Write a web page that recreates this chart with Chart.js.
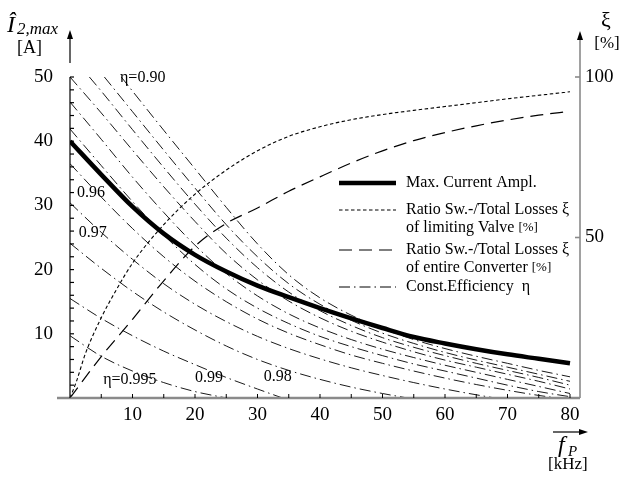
<!DOCTYPE html>
<html>
<head>
<meta charset="utf-8">
<title>Max. current amplitude and switching-loss ratio vs. pulse frequency</title>
<script src="https://cdn.jsdelivr.net/npm/chart.js@4.4.0/dist/chart.umd.min.js"></script>
<style>
  html, body { margin: 0; padding: 0; background: #fff; }
  canvas { display: block; }
</style>
</head>
<body>
<canvas id="chart" width="621" height="483"></canvas>
<script>
// ---------- axis ticks ----------
const freqTicks = [0, 5, 10, 15, 20, 25, 30, 35, 40, 45, 50, 55, 60, 65, 70, 75, 80];
const freqLabels = [10, 20, 30, 40, 50, 60, 70, 80];
const currentTicks = [0, 2, 4, 6, 8, 10, 12, 14, 16, 18, 20, 22, 24, 26, 28, 30, 32, 34, 36, 38, 40, 42, 44, 46, 48, 50];
const currentLabels = [10, 20, 30, 40, 50];
const ratioTicks = [50, 100];

// ---------- series: [f in kHz, value] ----------
// max. current amplitude I2,max [A]
const maxCurrent = [[0,40],[5,34.8],[10,29.8],[15,25.6],[20,22.3],[25,19.7],[30,17.5],[35,15.7],[40,14.0],[45,12.4],[50,10.9],[55,9.5],[60,8.5],[65,7.6],[70,6.8],[75,6.1],[80,5.4]];
// ratio switching / total losses of the limiting valve [%]
const ratioValve = [[0,0],[1,5],[2.5,14],[5,25],[7.5,34],[10,42],[15,54],[20,63.5],[25,71],[30,77],[35,81.5],[40,84.5],[45,86.7],[50,88.3],[55,89.6],[60,90.8],[65,92],[70,93.2],[75,94.3],[80,95.4]];
// ratio switching / total losses of the entire converter [%]
const ratioConverter = [[0,0],[5,12.9],[10,24.5],[15,36.5],[20,47.3],[25,54.4],[30,59.2],[35,64.4],[40,68.9],[45,73.2],[50,77.0],[55,80.2],[60,82.7],[65,84.8],[70,86.6],[75,88.1],[80,89.3]];

// lines of constant efficiency eta
const eta090  = [[8.2,50],[10,47.8],[15,41.7],[20,35.7],[25,29.7],[30,24.0],[35,19.2],[40,15.6],[45,12.9],[50,10.8],[55,9.1],[60,7.7],[65,6.5],[70,5.4],[75,4.3],[80,3.3]];
const eta091  = [[5.5,50],[10,44.6],[15,38.6],[20,32.7],[25,27.0],[30,22.0],[35,17.8],[40,14.6],[45,12.1],[50,10.1],[55,8.5],[60,7.1],[65,5.9],[70,4.8],[75,3.7],[80,2.6]];
const eta092  = [[3.1,50],[5,47.8],[10,41.8],[15,35.9],[20,30.2],[25,24.9],[30,20.3],[35,16.5],[40,13.6],[45,11.3],[50,9.4],[55,7.9],[60,6.6],[65,5.4],[70,4.3],[75,3.2],[80,2.0]];
const eta093  = [[0,50],[5,44.4],[10,38.6],[15,32.9],[20,27.5],[25,22.5],[30,18.4],[35,15.1],[40,12.5],[45,10.4],[50,8.7],[55,7.2],[60,5.9],[65,4.8],[70,3.7],[75,2.6],[80,1.4]];
const eta094  = [[0,46.1],[5,40.3],[10,34.4],[15,28.9],[20,23.8],[25,19.4],[30,15.9],[35,13.1],[40,10.9],[45,9.1],[50,7.6],[55,6.3],[60,5.1],[65,4.0],[70,2.9],[75,1.8],[80,0.7]];
const eta095  = [[0,41.9],[5,36.2],[10,30.6],[15,25.4],[20,20.8],[25,17.0],[30,14.0],[35,11.6],[40,9.6],[45,8.0],[50,6.6],[55,5.3],[60,4.2],[65,3.1],[70,2.0],[75,1.0],[80,0.2]];
const eta096  = [[0,36.5],[5,31.3],[10,26.4],[15,22.0],[20,18.2],[25,15.0],[30,12.3],[35,10.1],[40,8.3],[45,6.7],[50,5.4],[55,4.2],[60,3.1],[65,2.1],[70,1.2],[75,0.4],[78,0]];
const eta097  = [[0,30.4],[5,25.8],[10,21.6],[15,17.8],[20,14.6],[25,11.9],[30,9.6],[35,7.7],[40,6.1],[45,4.7],[50,3.5],[55,2.4],[60,1.4],[65,0.5],[68,0]];
const eta098  = [[0,24.1],[5,20.2],[10,16.6],[15,13.4],[20,10.6],[25,8.1],[30,6.0],[35,4.3],[40,2.9],[45,1.7],[50,0.7],[54,0]];
const eta099  = [[0,15.5],[5,12.4],[10,9.7],[15,7.3],[20,5.2],[25,3.2],[30,1.4],[34,0]];
const eta0995 = [[0,9.7],[5,6.5],[10,4.2],[15,2.4],[20,1.0],[25,0]];
const etaCurves = [eta090, eta091, eta092, eta093, eta094, eta095, eta096, eta097, eta098, eta099, eta0995];
const etaNames = ['0.90','0.91','0.92','0.93','0.94','0.95','0.96','0.97','0.98','0.99','0.995'];

// curve labels: text and anchor (f, I)
const etaLabelText = ['\u03b7=0.90', '0.96', '0.97', '\u03b7=0.995', '0.99', '0.98'];
const etaLabelAt = [[8.0,49.9],[1.1,32.0],[1.4,25.8],[5.3,2.8],[20.0,3.1],[31.0,3.3]];

// legend text
const legendMain = ['Max. Current Ampl.', 'Ratio Sw.-/Total Losses \u03be', 'Ratio Sw.-/Total Losses \u03be', 'Const.Efficiency  \u03b7'];
const legendSub = ['', 'of limiting Valve ', 'of entire Converter ', ''];
const legendUnit = ['', '[%]', '[%]', ''];

const SERIF = '"Liberation Serif", "Times New Roman", Times, serif';
const toXY = arr => arr.map(p => ({ x: p[0], y: p[1] }));

const DASH_DOT = [11, 4, 1.5, 4];
const DOTTED = [3.5, 2.5];
const DASHED = [13, 7];

const datasets = [];
etaCurves.forEach((c, i) => datasets.push({
  label: '\u03b7=' + etaNames[i], data: toXY(c), yAxisID: 'y',
  borderColor: '#000', borderWidth: 0.9, borderDash: DASH_DOT,
  pointRadius: 0, cubicInterpolationMode: 'monotone', fill: false
}));
datasets.push({
  label: 'Ratio Sw.-/Total Losses of limiting Valve', data: toXY(ratioValve), yAxisID: 'y2',
  borderColor: '#000', borderWidth: 1.1, borderDash: DOTTED,
  pointRadius: 0, cubicInterpolationMode: 'monotone', fill: false
});
datasets.push({
  label: 'Ratio Sw.-/Total Losses of entire Converter', data: toXY(ratioConverter), yAxisID: 'y2',
  borderColor: '#000', borderWidth: 1.2, borderDash: DASHED,
  pointRadius: 0, cubicInterpolationMode: 'monotone', fill: false
});
datasets.push({
  label: 'Max. Current Ampl.', data: toXY(maxCurrent), yAxisID: 'y',
  borderColor: '#000', borderWidth: 4.5,
  pointRadius: 0, cubicInterpolationMode: 'monotone', fill: false
});

function seg(ctx, x1, y1, x2, y2) {
  ctx.beginPath(); ctx.moveTo(x1, y1); ctx.lineTo(x2, y2); ctx.stroke();
}
function arrowUp(ctx, x, y) {
  ctx.beginPath(); ctx.moveTo(x, y); ctx.lineTo(x - 3, y + 9); ctx.lineTo(x + 3, y + 9); ctx.closePath(); ctx.fill();
}
function arrowRight(ctx, x, y) {
  ctx.beginPath(); ctx.moveTo(x, y); ctx.lineTo(x - 9, y - 3); ctx.lineTo(x - 9, y + 3); ctx.closePath(); ctx.fill();
}

// axes lines, tick marks, arrows and axis titles
const axisDecor = {
  id: 'axisDecor',
  afterDraw(chart) {
    const { ctx, chartArea: a, scales } = chart;
    const x = scales.x, y = scales.y, y2 = scales.y2;
    const x0 = x.getPixelForValue(0);
    const yb = y.getPixelForValue(0);
    const yt = y.getPixelForValue(50);
    ctx.save();
    ctx.lineCap = 'butt';

    // frequency axis (grey)
    ctx.strokeStyle = '#8a8a8a'; ctx.lineWidth = 2.5;
    seg(ctx, x0 - 13, yb, a.right, yb);
    // ratio axis (grey) on the right
    ctx.lineWidth = 1.6;
    seg(ctx, a.right, yb, a.right, a.top - 40);
    ratioTicks.forEach(v => { const py = y2.getPixelForValue(v); seg(ctx, a.right - 5, py, a.right, py); });
    ctx.fillStyle = '#000';
    arrowUp(ctx, a.right, a.top - 46);

    // current axis (black)
    ctx.strokeStyle = '#000'; ctx.lineWidth = 1.2;
    seg(ctx, x0, yb, x0, yt);
    currentTicks.forEach(v => { if (v > 0) { const py = y.getPixelForValue(v); seg(ctx, x0, py, x0 + 4, py); } });
    ctx.lineWidth = 1;
    freqTicks.forEach(v => { if (v > 0) { const px = x.getPixelForValue(v); seg(ctx, px, yb, px, yb - 4); } });

    // arrow above the current axis
    ctx.lineWidth = 1.2;
    seg(ctx, x0, a.top - 14, x0, a.top - 42);
    arrowUp(ctx, x0, a.top - 47);

    // arrow above the frequency label
    const ax = a.right - 27, ay = yb + 34;
    seg(ctx, ax, ay, ax + 30, ay);
    arrowRight(ctx, ax + 35, ay);

    // titles
    ctx.fillStyle = '#000';
    ctx.textBaseline = 'alphabetic';
    ctx.textAlign = 'left';
    ctx.font = 'italic 24px ' + SERIF;
    ctx.fillText('\u00ce', 7, 32);
    ctx.font = 'italic 17px ' + SERIF;
    ctx.fillText('2,max', 17, 34);
    ctx.font = '18px ' + SERIF;
    ctx.fillText('[A]', 17, 53);

    ctx.textAlign = 'center';
    ctx.font = '22px ' + SERIF;
    ctx.fillText('\u03be', 606, 27);
    ctx.font = '17px ' + SERIF;
    ctx.fillText('[%]', 607, 48);

    ctx.textAlign = 'left';
    ctx.font = 'italic 24px ' + SERIF;
    ctx.fillText('f', 558, 452);
    ctx.font = 'italic 15px ' + SERIF;
    ctx.fillText('P', 568, 456);
    ctx.font = '17px ' + SERIF;
    ctx.fillText('[kHz]', 548, 469);
    ctx.restore();
  }
};

// curve labels and legend
const annotations = {
  id: 'annotations',
  afterDatasetsDraw(chart) {
    const { ctx, scales } = chart;
    const x = scales.x, y = scales.y;
    ctx.save();
    ctx.fillStyle = '#000';
    ctx.font = '16px ' + SERIF;
    ctx.textAlign = 'left';
    ctx.textBaseline = 'middle';
    etaLabelText.forEach((t, i) => {
      ctx.fillText(t, x.getPixelForValue(etaLabelAt[i][0]), y.getPixelForValue(etaLabelAt[i][1]));
    });

    // legend
    const sx1 = 339, sx2 = 396, tx = 406;
    const rows = [183, 210, 250, 287];
    const styles = [
      { w: 4.5, dash: [] },
      { w: 1.1, dash: DOTTED },
      { w: 1.2, dash: DASHED },
      { w: 1.0, dash: DASH_DOT }
    ];
    rows.forEach((ry, i) => {
      ctx.strokeStyle = '#000';
      ctx.lineWidth = styles[i].w;
      ctx.setLineDash(styles[i].dash);
      seg(ctx, sx1, ry, sx2, ry);
      ctx.setLineDash([]);
      ctx.font = '16px ' + SERIF;
      ctx.fillText(legendMain[i], tx, ry);
      if (legendSub[i]) {
        ctx.fillText(legendSub[i], tx, ry + 18);
        const w = ctx.measureText(legendSub[i]).width;
        ctx.font = '13px ' + SERIF;
        ctx.fillText(legendUnit[i], tx + w, ry + 18);
      }
    });
    ctx.restore();
  }
};

const tickFont = { family: SERIF, size: 19 };

new Chart(document.getElementById('chart'), {
  type: 'line',
  data: { datasets },
  options: {
    responsive: false,
    animation: false,
    devicePixelRatio: 1,
    events: [],
    layout: { padding: { top: 77, left: 0, right: 0, bottom: 0 } },
    plugins: { legend: { display: false }, tooltip: { enabled: false }, title: { display: false } },
    scales: {
      x: {
        type: 'linear', min: 0, max: 81.6,
        afterBuildTicks: s => { s.ticks = freqTicks.map(v => ({ value: v })); },
        afterFit: s => { s.height = 85; },
        grid: { display: false, drawTicks: false },
        border: { display: false },
        ticks: {
          autoSkip: false, maxRotation: 0, padding: 6, color: '#000', font: tickFont,
          callback: v => freqLabels.includes(v) ? String(v) : ''
        }
      },
      y: {
        type: 'linear', position: 'left', min: 0, max: 50,
        afterBuildTicks: s => { s.ticks = currentTicks.map(v => ({ value: v })); },
        afterFit: s => { s.width = 70; },
        grid: { display: false, drawTicks: false },
        border: { display: false },
        ticks: {
          autoSkip: false, padding: 17, color: '#000', font: tickFont,
          callback: v => currentLabels.includes(v) ? String(v) : ''
        }
      },
      y2: {
        type: 'linear', position: 'right', min: 0, max: 100,
        afterBuildTicks: s => { s.ticks = ratioTicks.map(v => ({ value: v })); },
        afterFit: s => { s.width = 41; },
        grid: { display: false, drawTicks: false },
        border: { display: false },
        ticks: { autoSkip: false, padding: 5, color: '#000', font: tickFont }
      }
    }
  },
  plugins: [axisDecor, annotations]
});
</script>
</body>
</html>
